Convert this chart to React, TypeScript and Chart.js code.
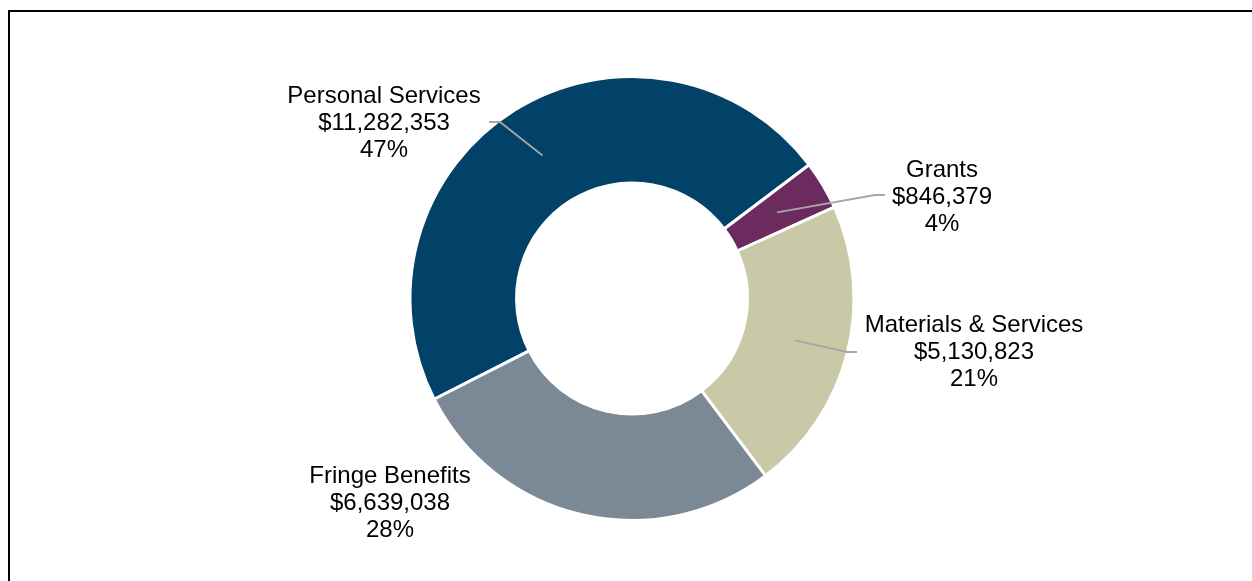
import React, { useEffect, useRef } from "react";
import { Chart, registerables } from "chart.js";

Chart.register(...registerables);

const categories = ["Personal Services", "Grants", "Materials & Services", "Fringe Benefits"];
const amounts = [11282353, 846379, 5130823, 6639038];
const sliceColors = ["#024269", "#6B2B5E", "#C9C8A7", "#7A8995"];

// label placement relative to chart centre (text centre of middle line, leader elbow & end)
const placements = [
  { tx: -248, ty: -175.5, leader: [[-132, -176.5], [-143, -176.5]] },
  { tx: 310, ty: -101.5, leader: [[243, -103.5], [253, -103.5]] },
  { tx: 342, ty: 53.5, leader: [[215, 53.5], [225, 53.5]] },
  { tx: -242, ty: 204.5, leader: null as null | number[][] },
];

const labelPlugin = {
  id: "outLabels",
  afterDatasetsDraw(chart: any) {
    const ctx = chart.ctx;
    const meta = chart.getDatasetMeta(0);
    const data = chart.data.datasets[0].data as number[];
    const total = data.reduce((a, b) => a + b, 0);
    ctx.save();
    meta.data.forEach((arc: any, i: number) => {
      const { x, y, startAngle, endAngle, innerRadius, outerRadius } = arc.getProps(
        ["x", "y", "startAngle", "endAngle", "innerRadius", "outerRadius"],
        true
      );
      const mid = (startAngle + endAngle) / 2;
      const r = (innerRadius + outerRadius) / 2;
      const p = placements[i];
      if (p.leader) {
        ctx.strokeStyle = "#A6A6A6";
        ctx.lineWidth = 1.8;
        ctx.beginPath();
        ctx.moveTo(x + Math.cos(mid) * r, y + Math.sin(mid) * r);
        p.leader.forEach((pt) => ctx.lineTo(x + pt[0], y + pt[1]));
        ctx.stroke();
      }
      const lines = [
        categories[i],
        "$" + data[i].toLocaleString("en-US"),
        Math.round((data[i] / total) * 100) + "%",
      ];
      ctx.fillStyle = "#000";
      ctx.font = '24px "Liberation Sans", Arial, sans-serif';
      ctx.textAlign = "center";
      ctx.textBaseline = "middle";
      lines.forEach((t, k) => {
        ctx.fillText(t, x + p.tx, y + p.ty + (k - 1) * 27);
      });
    });
    ctx.restore();
  },
};

export default function App() {
  const ref = useRef<HTMLCanvasElement>(null);
  useEffect(() => {
    if (!ref.current) return;
    const chart = new Chart(ref.current, {
      type: "doughnut",
      data: {
        labels: categories,
        datasets: [
          {
            data: amounts,
            backgroundColor: sliceColors,
            borderColor: "#ffffff",
            borderWidth: 3,
          },
        ],
      },
      options: {
        animation: false,
        responsive: false,
        rotation: -117,
        radius: 222,
        cutout: "52%",
        layout: { padding: { left: 12, top: 16 } },
        plugins: { legend: { display: false }, tooltip: { enabled: false } },
      },
      plugins: [labelPlugin],
    });
    return () => chart.destroy();
  }, []);
  return (
    <div style={{ position: "fixed", left: 0, top: 0, width: 1252, height: 581, overflow: "hidden", background: "#fff" }}>
      <div
        style={{
          position: "absolute",
          left: 8,
          top: 10,
          width: 2000,
          height: 2000,
          borderLeft: "2px solid #000",
          borderTop: "2px solid #000",
        }}
      />
      <canvas ref={ref} width={1252} height={581} style={{ position: "absolute", left: 0, top: 0 }} />
    </div>
  );
}
